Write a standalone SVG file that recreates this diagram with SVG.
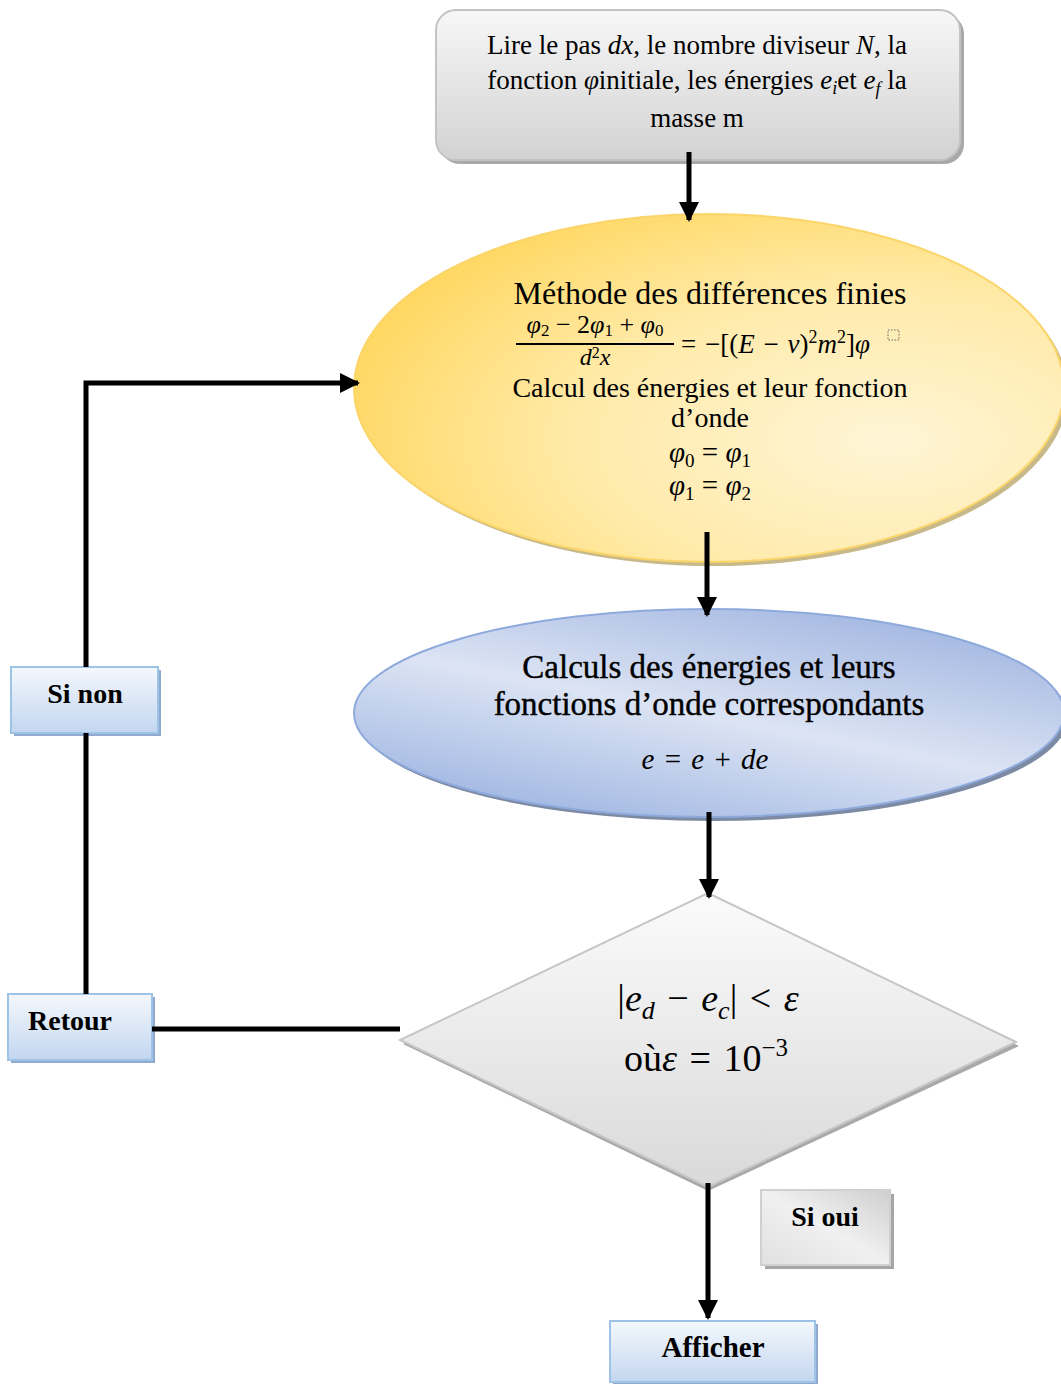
<svg xmlns="http://www.w3.org/2000/svg" width="1061" height="1384" viewBox="0 0 1061 1384">
<defs>
<linearGradient id="gGray" x1="0" y1="0" x2="0" y2="1"><stop offset="0" stop-color="#f7f7f7"/><stop offset="1" stop-color="#d2d2d2"/></linearGradient>
<linearGradient id="gGray2" x1="1" y1="0" x2="0" y2="1"><stop offset="0" stop-color="#cfcfcf"/><stop offset="0.5" stop-color="#f0f0f0"/><stop offset="1" stop-color="#e0e0e0"/></linearGradient>
<linearGradient id="gDiam" x1="0" y1="0" x2="0" y2="1"><stop offset="0" stop-color="#fbfbfb"/><stop offset="1" stop-color="#d9d9d9"/></linearGradient>
<radialGradient id="gYel" cx="0.75" cy="0.65" r="0.8"><stop offset="0" stop-color="#fff5d6"/><stop offset="0.55" stop-color="#ffeaa8"/><stop offset="1" stop-color="#ffd760"/></radialGradient>
<linearGradient id="gBlue" x1="0.2" y1="0.9" x2="0.8" y2="0"><stop offset="0" stop-color="#a6bbe4"/><stop offset="0.45" stop-color="#dce4f4"/><stop offset="1" stop-color="#9fb4e0"/></linearGradient>
<linearGradient id="gLb" x1="0" y1="0" x2="0" y2="1"><stop offset="0" stop-color="#f4f8fd"/><stop offset="1" stop-color="#c3d6ef"/></linearGradient>
<marker id="ah" viewBox="0 0 10 10" refX="9" refY="5" markerWidth="4" markerHeight="4" orient="auto" markerUnits="strokeWidth"><path d="M0,0 L10,5 L0,10 z" fill="#000"/></marker>
</defs>
<style>
.t{font-family:"Liberation Serif","Times New Roman",Times,serif;fill:#000;}
.m{font-family:"Liberation Serif","Times New Roman",Times,serif;font-style:italic;fill:#000;}
.c{font-family:"Liberation Serif","Times New Roman",Times,serif;fill:#000;font-weight:bold;}
.lb{fill:url(#gLb);stroke:#9dc3e6;stroke-width:2;}
.sh{fill:#8fa9cf;}
.con{stroke:#000;stroke-width:5;fill:none;}
</style>
<rect width="1061" height="1384" fill="#fff"/>

<g id="n-lire">
<rect x="440" y="14" width="524" height="150" rx="20" fill="#a9a9a9"/>
<rect x="436" y="10" width="524" height="150" rx="20" fill="url(#gGray)" stroke="#c3c3c3" stroke-width="2"/>
<text class="t" font-size="27" text-anchor="middle"><tspan x="697" y="54">Lire le pas <tspan class="m">dx</tspan>, le nombre diviseur <tspan class="m">N</tspan>, la</tspan><tspan x="697" y="89">fonction <tspan class="m">φ</tspan>initiale, les énergies <tspan class="m">e<tspan font-size="18" dy="5">i</tspan></tspan><tspan dy="-5">et </tspan><tspan class="m">e<tspan font-size="18" dy="6">f</tspan></tspan><tspan dy="-6">  la</tspan></tspan><tspan x="697" y="127">masse m</tspan></text>
</g>

<g id="n-methode">
<ellipse cx="713" cy="392" rx="355" ry="174" fill="#c8b98a"/>
<ellipse cx="709" cy="388" rx="355" ry="174" fill="url(#gYel)" stroke="#fbd56a" stroke-width="2"/>
<text class="t" font-size="32" text-anchor="middle" x="710" y="304">Méthode des différences finies</text>
<text class="m" font-size="26" text-anchor="middle" x="595" y="333">φ<tspan font-size="17" dy="3" font-style="normal">2</tspan><tspan dy="-3" font-style="normal"> − 2</tspan>φ<tspan font-size="17" dy="3" font-style="normal">1</tspan><tspan dy="-3" font-style="normal"> + </tspan>φ<tspan font-size="17" dy="3" font-style="normal">0</tspan></text>
<line x1="516" y1="344" x2="674" y2="344" stroke="#000" stroke-width="1.8"/>
<text class="m" font-size="24" text-anchor="middle" x="595" y="365">d<tspan font-size="16" dy="-7" font-style="normal">2</tspan><tspan dy="7">x</tspan></text>
<text class="t" font-size="27" x="681" y="353" word-spacing="2">= −[(<tspan class="m">E</tspan> − <tspan class="m">v</tspan>)<tspan font-size="18" dy="-10">2</tspan><tspan dy="10" class="m">m</tspan><tspan font-size="18" dy="-10">2</tspan><tspan dy="10">]</tspan><tspan class="m">φ</tspan></text>
<rect x="888" y="330" width="11" height="10" fill="none" stroke="#666" stroke-width="1" stroke-dasharray="1.5,1.5"/>
<text class="t" font-size="28" text-anchor="middle"><tspan x="710" y="397">Calcul des énergies et leur fonction</tspan><tspan x="710" y="427">d’onde</tspan></text>
<text class="m" font-size="29" text-anchor="middle" x="710" y="462">φ<tspan font-size="19" dy="5" font-style="normal">0</tspan><tspan dy="-5" font-style="normal"> = </tspan>φ<tspan font-size="19" dy="5" font-style="normal">1</tspan></text>
<text class="m" font-size="29" text-anchor="middle" x="710" y="495">φ<tspan font-size="19" dy="5" font-style="normal">1</tspan><tspan dy="-5" font-style="normal"> = </tspan>φ<tspan font-size="19" dy="5" font-style="normal">2</tspan></text>
</g>

<g id="n-calculs">
<ellipse cx="713" cy="717" rx="355" ry="104" fill="#7d8aa3"/>
<ellipse cx="709" cy="713" rx="355" ry="104" fill="url(#gBlue)" stroke="#8eaadc" stroke-width="2"/>
<text class="t" font-size="33" text-anchor="middle" stroke="#000" stroke-width="0.4"><tspan x="709" y="678">Calculs des énergies et leurs</tspan><tspan x="709" y="715">fonctions d’onde correspondants</tspan></text>
<text class="m" font-size="29" text-anchor="middle" x="705" y="769" word-spacing="3">e <tspan font-style="normal">=</tspan> e <tspan font-style="normal">+</tspan> de</text>
</g>

<g id="n-test">
<polygon points="708,897 1019,1046 708,1191 403,1044" fill="#a9a9a9"/>
<polygon points="708,893 1016,1042 708,1187 400,1040" fill="url(#gDiam)" stroke="#c6c6c6" stroke-width="2"/>
<text class="t" font-size="38" text-anchor="middle" x="708" y="1011" word-spacing="3">|<tspan class="m">e</tspan><tspan class="m" font-size="26" dy="8">d</tspan><tspan dy="-8"> − </tspan><tspan class="m">e</tspan><tspan class="m" font-size="26" dy="8">c</tspan><tspan dy="-8">| &lt; </tspan><tspan class="m">ε</tspan></text>
<text class="t" font-size="38" text-anchor="middle" x="706" y="1071" word-spacing="3">où<tspan class="m">ε</tspan> = 10<tspan font-size="25" dy="-15">−3</tspan></text>
</g>

<g id="n-sinon">
<rect x="14" y="670" width="147" height="66" class="sh"/>
<rect x="11" y="667" width="147" height="66" class="lb"/>
<text class="c" font-size="28" text-anchor="middle" x="85" y="703">Si non</text>
</g>

<g id="n-retour">
<rect x="11" y="997" width="144" height="66" class="sh"/>
<rect x="8" y="994" width="144" height="66" class="lb"/>
<text class="c" font-size="28" text-anchor="middle" x="70" y="1030">Retour</text>
</g>

<g id="n-sioui">
<rect x="765" y="1194" width="129" height="75" fill="#a6a6a6"/>
<rect x="761" y="1190" width="129" height="75" fill="url(#gGray2)" stroke="#d0d0d0" stroke-width="2"/>
<text class="c" font-size="28" text-anchor="middle" x="825" y="1226">Si oui</text>
</g>

<g id="n-afficher">
<rect x="613" y="1324" width="205" height="62" class="sh"/>
<rect x="610" y="1321" width="205" height="61" class="lb"/>
<text class="c" font-size="29" text-anchor="middle" x="713" y="1357">Afficher</text>
</g>

<g id="connectors">
<line class="con" x1="689" y1="152" x2="689" y2="220" marker-end="url(#ah)"/>
<line class="con" x1="707" y1="532" x2="707" y2="615" marker-end="url(#ah)"/>
<line class="con" x1="709" y1="812" x2="709" y2="897" marker-end="url(#ah)"/>
<line class="con" x1="708" y1="1183" x2="708" y2="1318" marker-end="url(#ah)"/>
<line class="con" x1="152" y1="1029" x2="400" y2="1029"/>
<line class="con" x1="86" y1="994" x2="86" y2="733"/>
<path class="con" d="M86,667 V383 H358" marker-end="url(#ah)"/>
</g>
</svg>
